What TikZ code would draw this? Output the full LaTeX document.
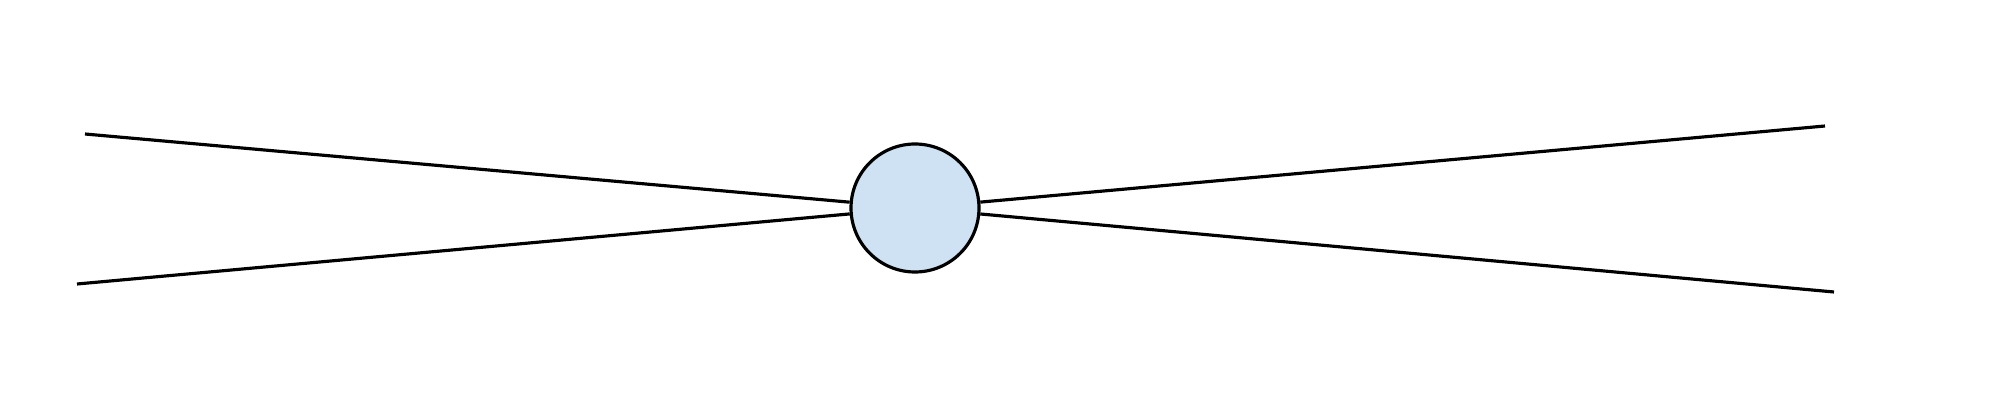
\documentclass[tikz,border=0pt]{standalone}
\usepackage{tikz}
\definecolor{nodefill}{HTML}{CFE2F3}
\begin{document}
\begin{tikzpicture}[
  hub/.style={circle, draw=black, fill=nodefill, line width=0.9pt, minimum size=1.28cm, inner sep=0pt},
  wire/.style={draw=black, line width=0.9pt}
]
\useasboundingbox (0,0) rectangle (20,4.04);
\node[hub] (c) at (9.15,1.96) {};
\coordinate (ul) at (0.85,2.70);
\coordinate (ll) at (0.77,1.20);
\coordinate (ur) at (18.25,2.78);
\coordinate (lr) at (18.34,1.12);
\draw[wire] (ul) -- (c);
\draw[wire] (ll) -- (c);
\draw[wire] (c) -- (ur);
\draw[wire] (c) -- (lr);
\end{tikzpicture}
\end{document}
